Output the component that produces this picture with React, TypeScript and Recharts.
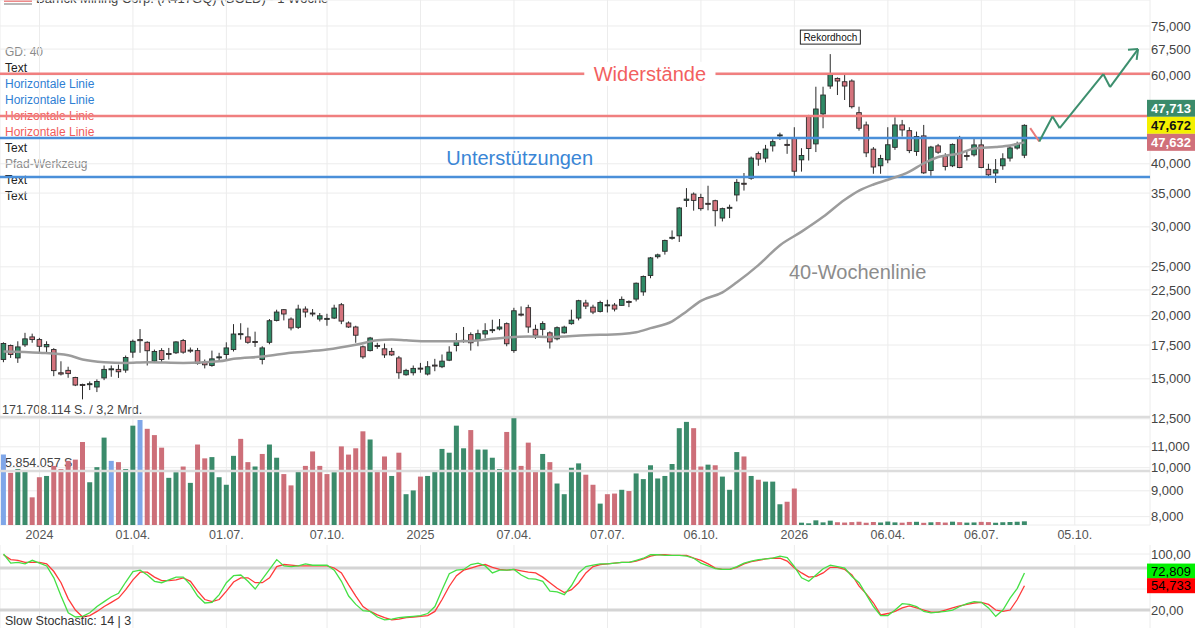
import React from 'react';
import {
  ComposedChart, Bar, Line, XAxis, YAxis, CartesianGrid, ReferenceLine, ReferenceDot, Cell,
} from 'recharts';

const FONT = '"Liberation Sans", Arial, Helvetica, sans-serif';

// Weekly candles, last week of Nov 2023 .. mid Aug 2026 (EUR)
const OPEN = [
  16.38, 17.46, 16.5, 17.51, 18.16, 17.94, 17.36, 17.14, 15.42, 15.59,
  15.09, 14.62, 14.65, 14.45, 15.06, 15.66, 15.66, 15.61, 16.94, 17.94,
  17.72, 16.26, 17.06, 16.84, 16.89, 17.86, 17.1, 17.06, 16.18, 15.94,
  16.55, 16.76, 17.14, 18.35, 18.16, 17.78, 16.38, 17.72, 19.58, 20.56,
  19.7, 18.97, 20.62, 20.25, 19.7, 19.73, 19.79, 21.03, 19.35, 19.0,
  17.36, 17.06, 17.46, 17.2, 17.0, 16.5, 15.28, 15.42, 15.75, 15.33,
  15.97, 15.85, 16.33, 17.46, 17.8, 18.35, 17.94, 18.4, 18.73, 18.83,
  19.29, 17.06, 20.15, 20.75, 18.8, 18.8, 18.5, 18.0, 18.5, 19.29,
  19.79, 21.2, 20.8, 20.4, 21.0, 21.0, 20.97, 21.35, 21.58, 22.3,
  24.03, 26.18, 26.84, 28.55, 28.8, 33.85, 34.84, 34.3, 33.4, 33.8,
  31.23, 32.75, 34.7, 36.6, 37.45, 41.9, 41.05, 43.41, 45.43, 43.7,
  44.88, 40.73, 49.6, 43.8, 50.21, 57.03, 59.05, 58.16, 58.35, 50.51,
  47.76, 42.77, 39.64, 40.73, 43.12, 47.76, 46.53, 42.3, 45.43, 38.8,
  43.41, 41.35, 39.64, 45.1, 41.55, 41.67, 43.6, 39.0, 38.35, 39.64,
  41.05, 42.98, 41.6,
];
const HIGH = [
  17.72, 17.54, 17.8, 18.5, 18.43, 18.08, 17.8, 17.25, 16.25, 15.85,
  15.14, 14.67, 14.82, 14.96, 15.94, 15.94, 16.0, 16.68, 17.94, 18.82,
  17.8, 17.14, 17.25, 17.27, 17.8, 17.99, 17.3, 17.27, 16.38, 17.06,
  16.89, 17.72, 19.25, 19.33, 18.94, 18.6, 17.4, 19.7, 20.56, 20.62,
  19.85, 21.03, 20.87, 20.62, 20.25, 20.18, 21.03, 21.2, 19.49, 19.11,
  17.46, 18.16, 17.68, 17.62, 17.27, 16.65, 15.7, 15.94, 16.13, 16.26,
  16.43, 16.76, 17.4, 18.48, 19.0, 18.54, 18.77, 19.33, 19.64, 19.7,
  19.4, 20.74, 20.87, 21.03, 19.2, 19.5, 18.63, 19.05, 19.11, 20.56,
  21.51, 21.51, 21.03, 21.42, 21.51, 21.2, 21.84, 21.45, 23.27, 24.03,
  26.15, 26.55, 28.3, 29.52, 32.85, 35.8, 35.1, 34.89, 36.19, 33.95,
  32.75, 33.2, 37.3, 38.35, 41.35, 42.3, 43.6, 44.75, 46.1, 44.75,
  47.26, 42.95, 50.0, 56.85, 56.85, 65.97, 59.32, 59.95, 58.8, 51.9,
  48.49, 43.17, 41.67, 47.26, 49.45, 48.86, 47.26, 46.33, 47.76, 43.41,
  43.8, 41.97, 43.89, 45.43, 42.3, 44.95, 44.75, 40.0, 40.87, 41.97,
  43.41, 44.25, 47.9,
];
const LOW = [
  16.18, 16.5, 16.13, 17.35, 17.68, 16.94, 16.89, 15.18, 15.23, 15.07,
  14.51, 13.66, 14.25, 14.12, 14.91, 15.14, 15.06, 15.42, 16.51, 16.89,
  15.94, 16.16, 16.18, 16.38, 16.8, 16.82, 16.89, 16.0, 15.73, 15.85,
  16.26, 16.33, 16.99, 17.94, 17.6, 17.35, 16.02, 17.56, 19.49, 19.58,
  18.71, 18.83, 19.85, 19.94, 19.49, 19.11, 19.7, 19.25, 18.92, 17.68,
  16.43, 16.99, 17.2, 16.5, 16.65, 15.0, 15.21, 15.23, 15.42, 15.23,
  15.53, 15.75, 16.26, 17.0, 17.68, 17.06, 17.4, 18.07, 18.48, 18.71,
  17.4, 16.89, 19.94, 18.5, 17.99, 18.27, 17.22, 17.88, 18.43, 19.2,
  19.58, 20.62, 20.15, 20.3, 20.3, 20.4, 20.95, 20.8, 21.35, 21.91,
  23.73, 25.96, 26.43, 28.3, 28.0, 32.85, 32.3, 32.3, 32.35, 30.07,
  30.75, 31.23, 33.7, 35.4, 37.19, 39.64, 40.25, 42.3, 44.61, 41.86,
  37.75, 38.6, 40.6, 42.2, 47.04, 56.3, 54.74, 53.51, 51.48, 46.52,
  41.24, 38.22, 38.22, 40.1, 42.63, 45.3, 41.99, 41.48, 38.2, 37.87,
  41.86, 38.8, 39.4, 39.2, 40.6, 41.35, 39.2, 37.48, 36.65, 38.92,
  40.42, 42.68, 41.05,
];
const CLOSE = [
  17.62, 16.76, 17.35, 18.0, 17.94, 17.4, 17.54, 15.57, 15.33, 15.36,
  14.58, 14.6, 14.67, 14.82, 15.66, 15.7, 15.49, 16.53, 17.8, 17.85,
  17.05, 16.99, 16.38, 16.76, 17.75, 16.94, 17.06, 16.08, 15.99, 16.43,
  16.58, 17.27, 18.4, 18.43, 17.72, 17.72, 17.27, 19.55, 20.34, 20.16,
  18.92, 20.62, 20.34, 20.16, 20.0, 19.76, 20.71, 19.52, 19.0, 18.3,
  16.58, 18.07, 17.42, 16.73, 16.73, 15.42, 15.59, 15.73, 15.7, 15.85,
  15.94, 16.26, 16.94, 17.8, 17.88, 17.68, 18.43, 18.68, 18.77, 19.0,
  17.6, 20.46, 20.1, 19.0, 18.3, 19.3, 17.75, 18.94, 18.99, 19.6,
  21.42, 20.9, 20.34, 21.25, 21.02, 20.62, 21.55, 21.3, 23.2, 23.92,
  26.04, 26.4, 28.2, 28.6, 32.7, 34.05, 33.85, 32.6, 33.3, 32.3,
  32.6, 32.8, 36.75, 36.5, 41.05, 40.87, 42.77, 44.25, 45.63, 43.5,
  38.67, 41.55, 42.9, 51.36, 54.74, 60.32, 58.35, 57.03, 51.9, 47.04,
  42.05, 39.42, 40.98, 43.63, 47.76, 46.68, 42.48, 45.3, 38.38, 43.17,
  42.17, 39.52, 43.7, 39.32, 41.4, 43.6, 39.32, 38.04, 38.92, 40.92,
  43.0, 43.8, 47.67,
];
// weekly volume, million shares
const VOLUME = [
  112, 83, 89, 85, 44, 76, 78, 94, 89, 102,
  104, 132, 68, 92, 139, 102, 100, 89, 158, 167,
  153, 143, 123, 75, 84, 93, 67, 128, 106, 108,
  76, 64, 110, 137, 100, 93, 113, 128, 107, 81,
  63, 86, 94, 117, 94, 81, 84, 125, 112, 122,
  149, 136, 86, 109, 78, 115, 49, 55, 77, 78,
  86, 121, 115, 158, 122, 151, 120, 120, 107, 89,
  148, 171.7, 94, 131, 86, 113, 100, 66, 49, 91,
  98, 80, 64, 34, 49, 50, 56, 54, 82, 73,
  95, 74, 78, 97, 154, 164, 154, 93, 96, 95,
  77, 56, 116, 109, 78, 72, 69, 69, 33, 37,
  58, 3.7, 2.7, 7.4, 4.2, 6.9, 4.4, 3.9, 4.6, 5.2,
  3.6, 4.8, 4.0, 5.5, 4.2, 3.7, 4.9, 5.1, 3.5, 4.3,
  4.7, 3.9, 5.3, 4.5, 3.8, 4.1, 5.0, 4.6, 3.6, 4.4,
  4.8, 5.2, 5.85,
];
// u = close above previous close, d = below, n = unchanged
const VOL_DIR = (
  'nduudduddd' + 'dduuunduun' + 'ddduududdu' + 'uuudduduud' + 'dudddduddd' +
  'dudduduudu' + 'uuuuuduuuu' + 'duddduduuu' + 'uddudduduu' + 'uuuuuuddud' +
  'uuududuuud' + 'duuuuudddd' + 'dduuuddudu' + 'dduduudduu' + 'uuu'
).split('');
const VOL_MAX = 171.708114;

// slow stochastic 14 | 3
const STOCH_K = [
  100, 87, 88, 86, 91, 87, 83, 66, 40, 16,
  10, 11, 16, 25, 32, 39, 44, 60, 75, 77,
  70, 61, 59, 63, 67, 67, 56, 40, 30, 31,
  42, 59, 69, 70, 61, 50, 64, 78, 92, 83,
  82, 83, 86, 84, 84, 84, 77, 61, 40, 28,
  19, 18, 10, 6, 7, 9, 10, 11, 12, 15,
  25, 49, 72, 77, 78, 85, 87, 83, 73, 77,
  77, 78, 70, 65, 64, 61, 47, 46, 42, 55,
  73, 82, 84, 86, 86, 87, 88, 88, 91, 94,
  99, 99, 98, 98, 98, 97, 94, 87, 83, 79,
  78, 78, 82, 87, 90, 92, 93, 94, 97, 95,
  82, 66, 61, 70, 79, 84, 82, 80, 68, 59,
  42, 25, 12, 12, 20, 29, 28, 25, 18, 16,
  17, 18, 20, 25, 29, 32, 31, 23, 11, 20,
  37, 51, 72.809,
];
const STOCH_D = [
  99, 92, 91, 88, 88, 88, 86, 75, 59, 36,
  20, 10, 12, 18, 25, 31, 37, 49, 63, 74,
  74, 67, 62, 62, 63, 66, 61, 47, 35, 32,
  35, 47, 60, 66, 66, 59, 59, 66, 82, 85,
  84, 83, 83, 83, 83, 83, 80, 73, 56, 40,
  25, 18, 13, 9, 6, 7, 9, 10, 11, 12,
  18, 35, 54, 69, 77, 80, 83, 85, 81, 78,
  77, 78, 76, 74, 73, 67, 59, 51, 45, 49,
  59, 73, 82, 85, 86, 87, 88, 88, 90, 93,
  97, 99, 99, 98, 98, 98, 94, 91, 86, 80,
  78, 78, 81, 86, 89, 91, 93, 94, 94, 90,
  80, 73, 67, 68, 73, 81, 81, 78, 70, 54,
  43, 30, 13, 15, 18, 23, 26, 23, 20, 17,
  17, 20, 23, 26, 28, 30, 31, 28, 20, 18,
  20, 35, 54.733,
];

// 40-week moving average, read at selected weeks
const MA_IDX = [0, 5, 9, 11, 14, 17, 20, 25, 30, 32, 36, 40, 45, 49, 52, 54, 56, 59, 64, 68, 73, 76, 81, 86, 88, 90, 93, 95, 97, 100, 102, 105, 108, 111, 114, 117, 119, 121, 123, 126, 128, 130, 133, 135, 138, 140, 142];
const MA_VAL = [17.0, 16.9, 16.7, 16.38, 16.18, 16.13, 16.18, 16.13, 16.25, 16.43, 16.6, 16.89, 17.14, 17.52, 17.88, 17.94, 17.88, 17.8, 17.8, 18.0, 18.2, 18.16, 18.3, 18.4, 18.55, 18.9, 19.5, 20.4, 21.4, 22.25, 23.3, 25.2, 27.6, 29.35, 31.4, 33.95, 35.4, 36.4, 37.2, 38.6, 40.1, 41.25, 41.95, 42.9, 43.2, 43.5, 44.1];

const TICK_IDX = [5, 18, 31, 45, 58, 71, 84, 97, 110, 123, 136, 149];
const TICK_LABELS = ['2024', '01.04.', '01.07.', '07.10.', '2025', '07.04.', '07.07.', '06.10.', '2026', '06.04.', '06.07.', '05.10.'];
const PRICE_TICKS = [8, 9, 10, 11, 12.5, 15, 17.5, 20, 22.5, 25, 30, 35, 40, 60, 67.5, 75];

const RESISTANCE = [60.3, 49.75];
const SUPPORT = [45.02, 37.65];
const ASK = 47.713;
const LAST = 47.672;
const BID = 47.632;

// drawn path (Pfad-Werkzeug)
const PATH_RED_IDX = [142.8, 144.06];
const PATH_RED_VAL = [47.07, 44.29];
const PATH_IDX = [144.06, 145.9, 146.9, 152.96, 153.9, 157.8];
const PATH_VAL = [44.29, 49.63, 47.07, 60.23, 56.76, 67.5];
const ARROW_IDX = [156.4, 157.8, 157.6];
const ARROW_VAL = [67.28, 67.5, 64.28];

const X_DOMAIN: [number, number] = [-0.49, 159.46];
const UP = '#2f8a66';
const DOWN = '#d4737d';
const VOL_COLORS: Record<string, string> = { u: '#3b8b6b', d: '#cd6f79', n: '#7fa6e8' };

const candles = OPEN.map((o, i) => ({
  i, open: o, high: HIGH[i], low: LOW[i], close: CLOSE[i],
  range: [LOW[i], HIGH[i]], vol: VOLUME[i], dir: VOL_DIR[i],
}));
const maData = MA_IDX.map((i, k) => ({ i, v: MA_VAL[k] }));
const stoch = STOCH_K.map((k, i) => ({ i, k, d: STOCH_D[i] }));

// consecutive point pairs of a drawn polyline
const toSegments = (xs: number[], ys: number[]) =>
  xs.slice(1).map((x, k) => [{ x: xs[k], y: ys[k] }, { x, y: ys[k + 1] }]);
const redSegments = toSegments(PATH_RED_IDX, PATH_RED_VAL);
const greenSegments = [...toSegments(PATH_IDX, PATH_VAL), ...toSegments(ARROW_IDX, ARROW_VAL)];

const fmt3 = (v: number) => v.toFixed(3).replace('.', ',');
const fmt2 = (v: number) => v.toFixed(2).replace('.', ',');

function Candle(props: any) {
  const { x, y, width, height, payload } = props;
  if (!payload || height == null) return null;
  const { open, close, high, low } = payload;
  const cx = x + width / 2;
  const span = Math.log(high) - Math.log(low);
  const toY = (v: number) => (span > 0 ? y + (height * (Math.log(high) - Math.log(v))) / span : y);
  const yo = toY(open);
  const yc = toY(close);
  const top = Math.min(yo, yc);
  const h = Math.max(Math.abs(yc - yo), 1);
  return (
    <g>
      <line x1={cx} x2={cx} y1={y} y2={y + height} stroke="#2a2a2a" strokeWidth={1} />
      <rect x={cx - 2.3} y={top} width={4.6} height={h} fill={close >= open ? UP : DOWN} stroke="#2a2a2a" strokeWidth={0.9} />
    </g>
  );
}

function AnnotText(props: any) {
  const { viewBox, text, color, size, dy = 0, knockout, boxed } = props;
  if (!viewBox) return null;
  const cx = viewBox.x + (viewBox.width || 0) / 2;
  const cy = viewBox.y + (viewBox.height || 0) / 2 + dy;
  const w = text.length * size * 0.56 + 8;
  return (
    <g>
      {knockout && <rect x={cx - w / 2} y={cy - size * 0.6} width={w} height={size * 1.2} fill="#fff" />}
      {boxed && <rect x={cx - 30} y={cy - 7} width={60} height={14} fill="#fff" stroke="#222" strokeWidth={1} />}
      <text x={cx} y={cy} textAnchor="middle" dominantBaseline="central" fill={color} fontSize={size} fontFamily={FONT}>
        {text}
      </text>
    </g>
  );
}

function QuoteBoxes(props: any) {
  const { viewBox } = props;
  if (!viewBox) return null;
  const left = viewBox.x + viewBox.width - 3;
  const cy = viewBox.y;
  const rows = [
    { v: ASK, bg: '#3b8b6b', fg: '#fff', dy: -17 },
    { v: LAST, bg: '#f4f000', fg: '#111', dy: 0 },
    { v: BID, bg: '#d0707a', fg: '#fff', dy: 17 },
  ];
  return (
    <g>
      {rows.map((r) => (
        <g key={r.v}>
          <rect x={left} y={cy + r.dy - 8.5} width={48} height={17} fill={r.bg} />
          <text x={left + 24} y={cy + r.dy} textAnchor="middle" dominantBaseline="central" fill={r.fg} fontSize={13} fontWeight="bold" fontFamily={FONT}>
            {fmt3(r.v)}
          </text>
        </g>
      ))}
    </g>
  );
}

function StochBox(props: any) {
  const { viewBox, value, bg, dy = 0 } = props;
  if (!viewBox) return null;
  const left = viewBox.x + viewBox.width - 3;
  const cy = viewBox.y + dy;
  return (
    <g>
      <rect x={left} y={cy - 7.5} width={48} height={15} fill={bg} />
      <text x={left + 24} y={cy} textAnchor="middle" dominantBaseline="central" fill="#000" fontSize={13} fontFamily={FONT}>
        {fmt3(value)}
      </text>
    </g>
  );
}

const leftNotes = [
  { t: 'GD: 40', c: '#8a8a8a', y: 52 },
  { t: 'Text', c: '#222', y: 68 },
  { t: 'Horizontale Linie', c: '#2f80d4', y: 84 },
  { t: 'Horizontale Linie', c: '#2f80d4', y: 100 },
  { t: 'Horizontale Linie', c: '#f05c5c', y: 116 },
  { t: 'Horizontale Linie', c: '#f05c5c', y: 132 },
  { t: 'Text', c: '#222', y: 148 },
  { t: 'Pfad-Werkzeug', c: '#8a8a8a', y: 164 },
  { t: 'Text', c: '#222', y: 180 },
  { t: 'Text', c: '#222', y: 196 },
];

export default function App() {
  return (
    <div style={{ position: 'fixed', left: 0, top: 0, width: 1200, height: 628, background: '#fff', overflow: 'hidden', fontFamily: FONT }}>
      {/* texts drawn behind the chart */}
      <div style={{ position: 'absolute', left: 0, top: 0, width: 1200, height: 628 }}>
        <div style={{ position: 'absolute', left: 4, top: 0, width: 28, height: 2, background: '#ee8a8a' }} />
        <div style={{ position: 'absolute', left: 4, top: 3, width: 28, height: 2, background: '#b8b8b8' }} />
        <div style={{ position: 'absolute', left: 36, top: -8, fontSize: 13, lineHeight: '14px', color: '#444', whiteSpace: 'nowrap' }}>
          Barrick Mining Corp. (A417GQ) (GOLD) - 1 Woche
        </div>
        {leftNotes.map((n, k) => (
          <div key={k} style={{ position: 'absolute', left: 5, top: n.y - 7, fontSize: 12, lineHeight: '14px', color: n.c, whiteSpace: 'nowrap' }}>
            {n.t}
          </div>
        ))}
        <div style={{ position: 'absolute', left: 2, top: 403, fontSize: 12.5, lineHeight: '14px', color: '#444', whiteSpace: 'nowrap' }}>
          171.708.114 S. / 3,2 Mrd.
        </div>
        <div style={{ position: 'absolute', left: 5, top: 456, fontSize: 12.5, lineHeight: '14px', color: '#444', whiteSpace: 'nowrap' }}>
          5.854.057 S.
        </div>
      </div>

      {/* price + volume */}
      <div style={{ position: 'absolute', left: 0, top: 0 }}>
        <ComposedChart width={1200} height={545} data={candles} margin={{ top: 0, right: 0, bottom: 0, left: 0 }}>
          <CartesianGrid xAxisId="x" yAxisId="p" stroke="#ececec" />
          <XAxis
            xAxisId="x" dataKey="i" type="number" domain={X_DOMAIN} allowDataOverflow
            ticks={TICK_IDX} interval={0} height={20}
            tickFormatter={(v: number) => TICK_LABELS[TICK_IDX.indexOf(v)] ?? ''}
            axisLine={false} tickLine={false} tickSize={0} tickMargin={5}
            tick={{ fill: '#555', fontSize: 12.5 }}
          />
          <XAxis xAxisId="xv" dataKey="i" type="number" domain={X_DOMAIN} allowDataOverflow hide />
          <YAxis
            yAxisId="p" orientation="right" width={50} scale="log" domain={[7.7, 84.44]} allowDataOverflow
            ticks={PRICE_TICKS} interval={0} tickFormatter={fmt3}
            axisLine={false} tickLine={false} tickSize={0} tickMargin={1}
            tick={{ fill: '#444', fontSize: 13 }}
          />
          <YAxis yAxisId="v" domain={[0, 835]} hide />

          <ReferenceLine xAxisId="xv" yAxisId="v" y={VOL_MAX} stroke="#dcdcdc" strokeWidth={2.5} />
          <ReferenceLine xAxisId="xv" yAxisId="v" y={VOL_MAX / 2} stroke="#dcdcdc" strokeWidth={2.5} />

          <Bar xAxisId="xv" yAxisId="v" dataKey="vol" barSize={5} isAnimationActive={false}>
            {candles.map((c) => (
              <Cell key={c.i} fill={VOL_COLORS[c.dir]} />
            ))}
          </Bar>

          {RESISTANCE.map((r) => (
            <ReferenceLine key={r} xAxisId="x" yAxisId="p" y={r} stroke="#f07f7f" strokeWidth={2.5} />
          ))}
          {SUPPORT.map((s) => (
            <ReferenceLine key={s} xAxisId="x" yAxisId="p" y={s} stroke="#4a8fd9" strokeWidth={2.5} />
          ))}

          <Line xAxisId="x" yAxisId="p" data={maData} dataKey="v" type="monotone" stroke="#9c9c9c" strokeWidth={2.5} dot={false} activeDot={false} isAnimationActive={false} />

          <Bar xAxisId="x" yAxisId="p" dataKey="range" barSize={5} isAnimationActive={false} shape={(p: any) => <Candle {...p} />} />

          {redSegments.map((seg, k) => (
            <ReferenceLine key={`r${k}`} xAxisId="x" yAxisId="p" segment={seg} stroke="#e87a7a" strokeWidth={2} />
          ))}
          {greenSegments.map((seg, k) => (
            <ReferenceLine key={`g${k}`} xAxisId="x" yAxisId="p" segment={seg} stroke="#3d8f6e" strokeWidth={2} />
          ))}

          <ReferenceDot xAxisId="x" yAxisId="p" x={89.9} y={60.3} r={0} stroke="none"
            label={<AnnotText text="Widerstände" color="#f25f5f" size={20} knockout />} />
          <ReferenceDot xAxisId="x" yAxisId="p" x={71.8} y={41.1} r={0} stroke="none"
            label={<AnnotText text="Unterstützungen" color="#3a86d6" size={20} />} />
          <ReferenceDot xAxisId="x" yAxisId="p" x={118.8} y={24.44} r={0} stroke="none"
            label={<AnnotText text="40-Wochenlinie" color="#8c8c8c" size={20} />} />
          <ReferenceDot xAxisId="x" yAxisId="p" x={115} y={65.97} r={0} stroke="none"
            label={<AnnotText text="Rekordhoch" color="#111" size={10} dy={-17} boxed />} />

          <ReferenceLine xAxisId="x" yAxisId="p" y={LAST} stroke="none" label={<QuoteBoxes />} />
        </ComposedChart>
      </div>

      {/* slow stochastic */}
      <div style={{ position: 'absolute', left: 0, top: 545, width: 1200, height: 83, overflow: 'hidden' }}>
        <ComposedChart width={1200} height={83} data={stoch} margin={{ top: 0, right: 0, bottom: 0, left: 0 }}>
          <CartesianGrid xAxisId="s" yAxisId="s" stroke="#ececec" horizontal={false} />
          <XAxis xAxisId="s" dataKey="i" type="number" domain={X_DOMAIN} allowDataOverflow ticks={TICK_IDX} hide />
          <YAxis
            yAxisId="s" orientation="right" width={50} domain={[-5.7, 112.9]} allowDataOverflow
            ticks={[20, 100]} interval={0} tickFormatter={fmt2}
            axisLine={false} tickLine={false} tickSize={0} tickMargin={1}
            tick={{ fill: '#444', fontSize: 13 }}
          />
          <ReferenceLine xAxisId="s" yAxisId="s" y={100} stroke="#ececec" />
          <ReferenceLine xAxisId="s" yAxisId="s" y={50} stroke="#ececec" />
          <ReferenceLine xAxisId="s" yAxisId="s" y={80} stroke="#d4d4d4" strokeWidth={3} />
          <ReferenceLine xAxisId="s" yAxisId="s" y={20} stroke="#d4d4d4" strokeWidth={3} />
          <Line xAxisId="s" yAxisId="s" dataKey="d" type="linear" stroke="#ff3a3a" strokeWidth={1.3} dot={false} activeDot={false} isAnimationActive={false} />
          <Line xAxisId="s" yAxisId="s" dataKey="k" type="linear" stroke="#45e045" strokeWidth={1.3} dot={false} activeDot={false} isAnimationActive={false} />
          <ReferenceLine xAxisId="s" yAxisId="s" y={STOCH_K[STOCH_K.length - 1]} stroke="none"
            label={<StochBox value={STOCH_K[STOCH_K.length - 1]} bg="#00f000" dy={-2} />} />
          <ReferenceLine xAxisId="s" yAxisId="s" y={STOCH_D[STOCH_D.length - 1]} stroke="none"
            label={<StochBox value={STOCH_D[STOCH_D.length - 1]} bg="#ff0000" />} />
        </ComposedChart>
      </div>

      <div style={{ position: 'absolute', left: 5, top: 614, fontSize: 12.5, lineHeight: '14px', color: '#333', whiteSpace: 'nowrap' }}>
        Slow Stochastic: 14 | 3
      </div>
    </div>
  );
}
